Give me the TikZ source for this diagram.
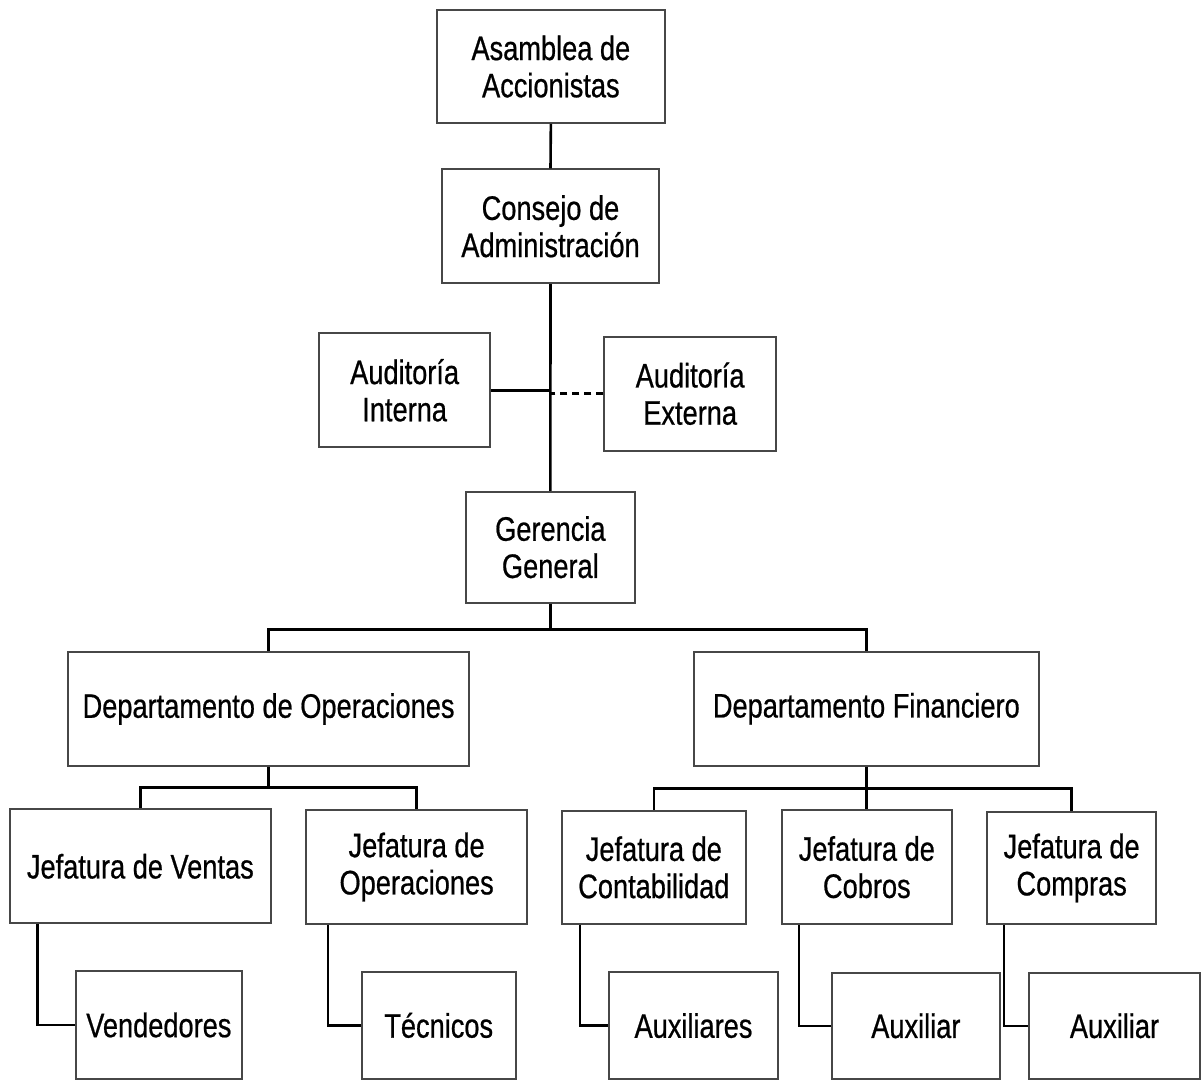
\documentclass[tikz,border=0pt]{standalone}
\usepackage{fontspec}
\setmainfont[FakeStretch=0.8,FakeBold=0.6]{Liberation Sans}
\begin{document}
\begin{tikzpicture}[x=0.5pt,y=-0.5pt,
  box/.style={draw=black!72, line width=0.9pt, fill=white, align=center,
    inner sep=0pt, font=\fontsize{17}{18.6}\selectfont},
  link/.style={draw=black, line width=1.3pt},
  dashlink/.style={link, dash pattern=on 3.5pt off 2.5pt}]
\useasboundingbox (0,0) rectangle (1204,1081);

% top of the chart
\node[box, minimum width=114.2pt, minimum height=56.5pt] (asam) at (550.85,66.5) {Asamblea de\\Accionistas};
\node[box, minimum width=108.8pt, minimum height=57pt] (cons) at (550.5,226.3) {Consejo de\\Administración};
\node[box, minimum width=85.7pt, minimum height=57pt] (aint) at (404.65,390.3) {Auditoría\\Interna};
\node[box, minimum width=85.9pt, minimum height=57pt] (aext) at (690.15,393.7) {Auditoría\\Externa};
\node[box, minimum width=84.7pt, minimum height=55.5pt] (ger) at (550.35,547.2) {Gerencia\\General};

% departments
\node[box, minimum width=200.4pt, minimum height=57pt] (dop) at (268.6,709) {Departamento de Operaciones};
\node[box, minimum width=172.7pt, minimum height=57pt] (dfin) at (866.35,708.7) {Departamento Financiero};

% heads of section
\node[box, minimum width=130.4pt, minimum height=57pt] (jven) at (140.35,866.3) {Jefatura de Ventas};
\node[box, minimum width=110.7pt, minimum height=57pt] (jope) at (416.65,867) {Jefatura de\\Operaciones};
\node[box, minimum width=92.2pt, minimum height=56.7pt] (jcon) at (653.85,867.35) {Jefatura de\\Contabilidad};
\node[box, minimum width=84.9pt, minimum height=57pt] (jcob) at (866.85,867.15) {Jefatura de\\Cobros};
\node[box, minimum width=84.4pt, minimum height=56.3pt] (jcom) at (1071.65,868) {Jefatura de\\Compras};

% staff
\node[box, minimum width=82.9pt, minimum height=54pt] (vend) at (158.85,1025) {Vendedores};
\node[box, minimum width=77pt, minimum height=53.7pt] (tec) at (438.7,1025.3) {Técnicos};
\node[box, minimum width=84.2pt, minimum height=53.4pt] (auxs) at (693.5,1025.6) {Auxiliares};
\node[box, minimum width=84.2pt, minimum height=53.2pt] (auxa) at (915.85,1025.8) {Auxiliar};
\node[box, minimum width=85.5pt, minimum height=53.2pt] (auxb) at (1114.5,1025.8) {Auxiliar};

% main spine
\draw[link] (asam.south) -- (cons.north);
\draw[link] (cons.south) -- (ger.north);
\draw[link] (aint.east) -- (aint.east -| cons.south);
\draw[dashlink] (aext.west) -- (aext.west -| cons.south);

% buses
\coordinate (b0) at (550.35,629.3);
\coordinate (b1) at (268.6,787.3);
\coordinate (b2) at (866.35,788.5);
\draw[link] (ger.south) -- (b0);
\draw[link] (dop.north) |- (b0) -| (dfin.north);
\draw[link] (dop.south) -- (b1);
\draw[link] (jven.north) |- (b1) -| (jope.north);
\draw[link] (dfin.south) -- (b2);
\draw[link] (jcon.north) |- (b2) -| (jcom.north);
\draw[link] (b2) -- (b2 |- jcob.north);

% elbows to staff
\draw[link] (jven.south west) ++(28.3,0) |- (vend.west);
\draw[link] (jope.south west) ++(23,0) |- (tec.west);
\draw[link] (jcon.south west) ++(19.3,0) |- (auxs.west);
\draw[link] (jcob.south west) ++(18,0) |- (auxa.west);
\draw[link] (jcom.south west) ++(17.7,0) |- (auxb.west);
\end{tikzpicture}
\end{document}
